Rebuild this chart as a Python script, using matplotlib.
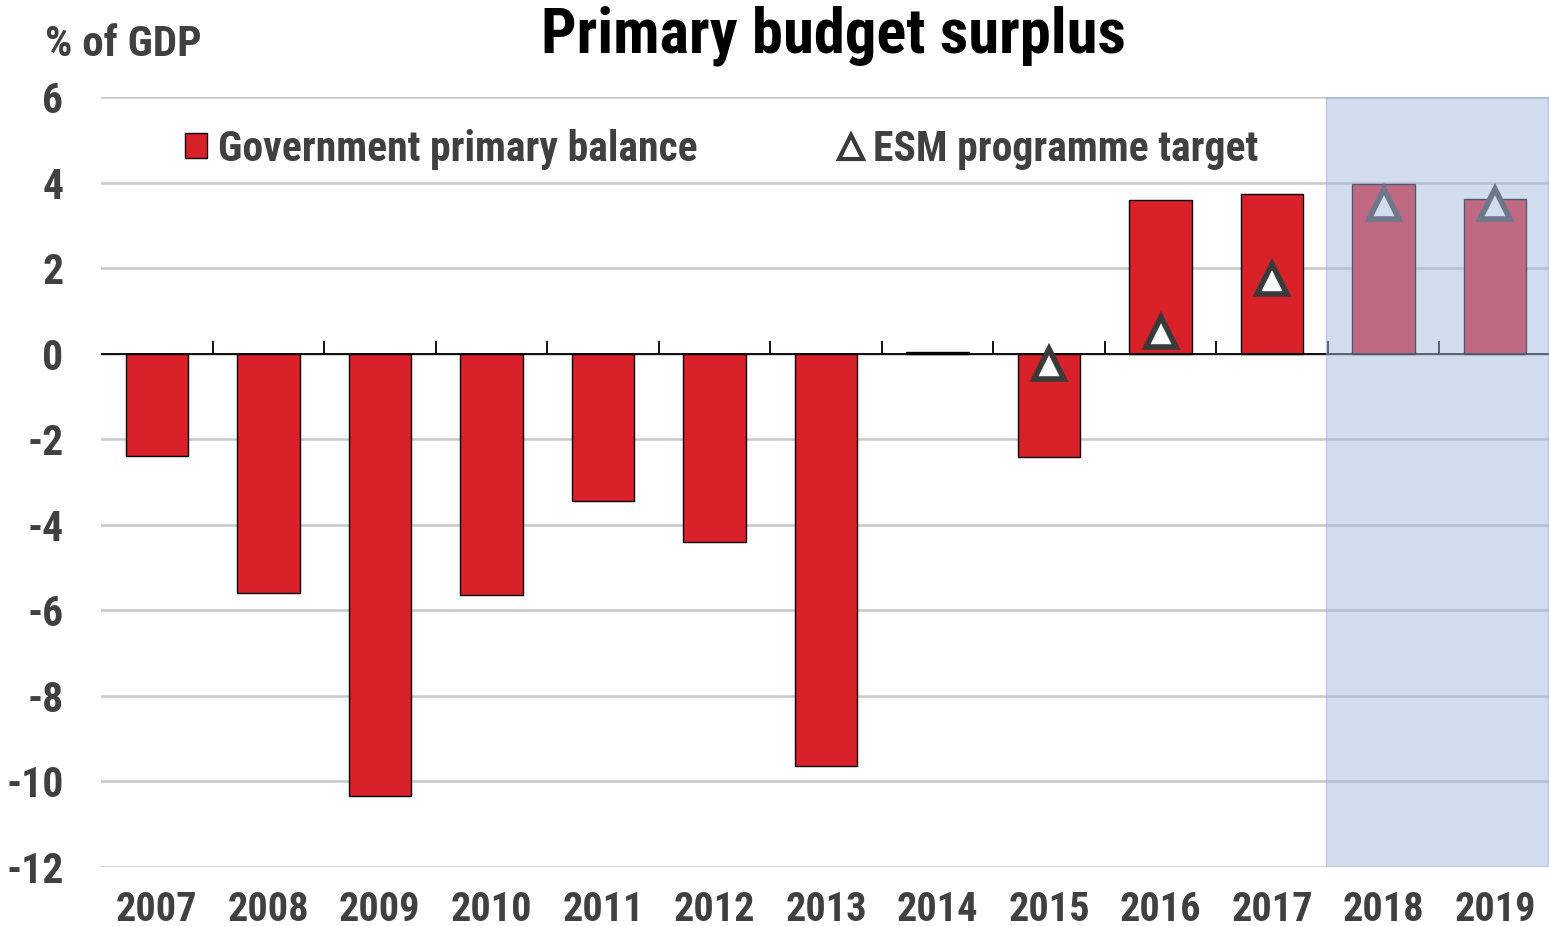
import matplotlib.pyplot as plt
from matplotlib.patches import Patch, Rectangle
from matplotlib.lines import Line2D

plt.rcParams["font.family"] = ["Roboto Condensed", "DejaVu Sans"]
plt.rcParams["font.weight"] = "bold"
plt.rcParams["axes.unicode_minus"] = False

TEXT = "#404040"
RED = "#d92129"

years = ["2007", "2008", "2009", "2010", "2011", "2012", "2013",
         "2014", "2015", "2016", "2017", "2018", "2019"]
primary_balance = [-2.4, -5.6, -10.35, -5.65, -3.45, -4.4, -9.63,
                   0.03, -2.42, 3.6, 3.73, 3.96, 3.62]
esm_years = ["2015", "2016", "2017", "2018", "2019"]
esm_target = [-0.25, 0.5, 1.75, 3.5, 3.5]
projection_years = ["2018", "2019"]

fig = plt.figure(figsize=(15.49, 9.26), dpi=100)
ax = fig.add_axes([101 / 1549, 1 - 867 / 926, 1450 / 1549, 770 / 926])

x = list(range(len(years)))
ax.bar(x, primary_balance, width=0.56, color=RED, edgecolor="black",
       linewidth=1.0, zorder=3)

ex = [years.index(y) for y in esm_years]
ax.plot(ex, esm_target, linestyle="none", marker="^", markersize=22,
        markerfacecolor="white", markeredgecolor="#3a3a3a",
        markeredgewidth=4, zorder=4)

# zero line with small upward ticks between categories
ax.axhline(0, color="black", linewidth=1.3, zorder=3)
bounds = [i + 0.5 for i in x[:-1]]
ax.vlines(bounds, 0, 0.3, color="black", linewidth=1.3, zorder=3)

# projection shading over the last two years
p0 = years.index(projection_years[0]) - 0.52
p1 = years.index(projection_years[-1]) + 0.47
ax.add_patch(Rectangle((p0, -12), p1 - p0, 18, facecolor="#a5b8e0",
                       alpha=0.49, edgecolor="#8fa6d8", linewidth=1,
                       zorder=5))

ax.set_xlim(-0.5, len(years) - 0.5)
ax.set_ylim(-12, 6)
ax.set_yticks(range(-12, 7, 2))
ax.set_xticks(x)
ax.set_xticklabels(years)
ax.yaxis.grid(True, color="#c8c8c8", linewidth=1.8, zorder=0)
ax.set_axisbelow(True)
for s in ax.spines.values():
    s.set_visible(False)
ax.tick_params(axis="both", length=0, labelsize=30, colors=TEXT)
ax.tick_params(axis="x", labelsize=29, pad=17)
ax.tick_params(axis="y", pad=27)

handles = [
    Patch(facecolor=RED, edgecolor="black", linewidth=1.0,
          label="Government primary balance"),
    Line2D([], [], linestyle="none", marker="^", markersize=17,
           markerfacecolor="white", markeredgecolor="#3a3a3a",
           markeredgewidth=3, label="ESM programme target"),
]
ax.legend(handles=handles, ncol=2, frameon=False, fontsize=30,
          loc="center left", bbox_to_anchor=((185 - 101) / 1450, (867 - 149) / 770),
          borderpad=0, borderaxespad=0,
          handlelength=0.53, handleheight=0.53, handletextpad=0.27,
          columnspacing=3.4, labelcolor=TEXT)

fig.text(833 / 1549, 1 - 36 / 926, "Primary budget surplus", ha="center",
         va="center", fontsize=45, color="black", fontweight="bold")
fig.text(45 / 1549, 1 - 45 / 926, "% of GDP", ha="left", va="center",
         fontsize=31, color=TEXT)

fig.savefig("out.png", dpi=100)
